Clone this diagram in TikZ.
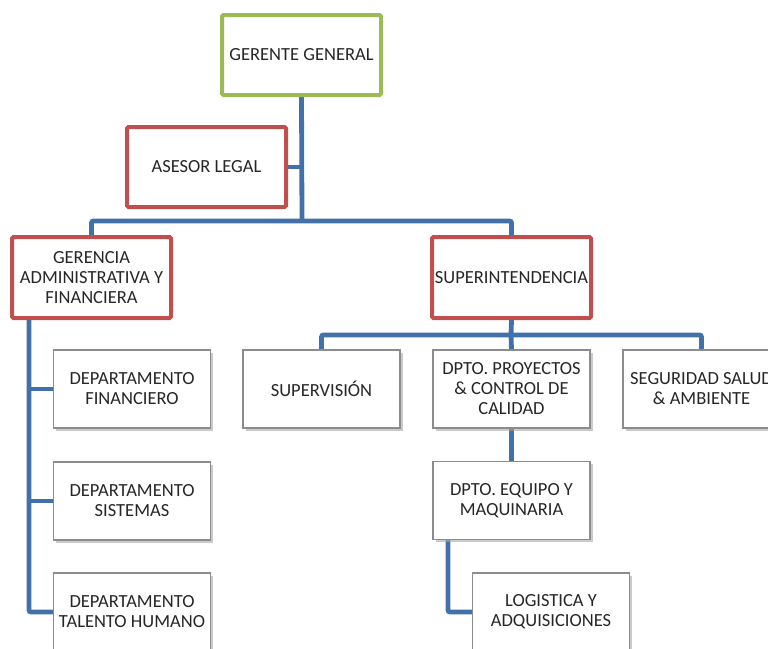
\documentclass[tikz,border=0pt]{standalone}
\usepackage{fontspec}
\setmainfont{Carlito}
\usetikzlibrary{shadows,backgrounds}
\definecolor{obl}{HTML}{4270A8}
\definecolor{ored}{HTML}{C0504D}
\definecolor{ogr}{HTML}{9BBB59}
\definecolor{txt}{HTML}{262626}
\tikzset{
  base/.style={rectangle, align=center, inner sep=0pt, text=txt,
    font=\fontsize{18.5}{20}\selectfont, fill=white},
  topbox/.style={base, draw=ogr, line width=4pt, rounded corners=1.5pt,
    minimum width=159pt, minimum height=80pt},
  redbox/.style={base, draw=ored, line width=4pt, rounded corners=1.5pt,
    minimum width=159pt, minimum height=81pt},
  unitbox/.style={base, draw=black!45, line width=1.1pt,
    minimum width=157pt, minimum height=78pt,
    drop shadow={shadow xshift=2.5pt, shadow yshift=-2.5pt, fill=black!35, opacity=0.6}},
  link/.style={draw=obl, line width=4.8pt, rounded corners=2pt}
}
\begin{document}
\begin{tikzpicture}[x=1pt,y=-1pt]
\useasboundingbox (0,0) rectangle (768,648);
\clip (0,0) rectangle (768,648);
\node[topbox] (gg) at (301.5,55) {GERENTE GENERAL};
\node[redbox, minimum height=80pt] (ase) at (206.5,167) {ASESOR LEGAL};
\node[redbox] (ger) at (91.5,277.5) {GERENCIA\\ADMINISTRATIVA Y\\FINANCIERA};
\node[redbox] (sup) at (511.5,277.5) {SUPERINTENDENCIA};
\node[unitbox] (sv) at (321.5,389) {SUPERVISIÓN};
\node[unitbox] (proy) at (511.5,389) {DPTO. PROYECTOS\\\& CONTROL DE\\CALIDAD};
\node[unitbox] (seg) at (701.5,389) {SEGURIDAD SALUD\\\& AMBIENTE};
\node[unitbox] (eq) at (511.5,500.5) {DPTO. EQUIPO Y\\MAQUINARIA};
\node[unitbox] (log) at (551,612) {LOGISTICA Y\\ADQUISICIONES};
\node[unitbox] (fin) at (132,389) {DEPARTAMENTO\\FINANCIERO};
\node[unitbox] (sis) at (132,501) {DEPARTAMENTO\\SISTEMAS};
\node[unitbox] (tal) at (132,612) {DEPARTAMENTO\\TALENTO HUMANO};
\coordinate (j1) at (302,221);
\coordinate (j2) at (511,335);
\coordinate (gb) at (29,320);
\coordinate (eb) at (448,539);
\begin{scope}[on background layer]
\draw[link] (gg.south) -- (j1);
\draw[link] (ase.east) -- (ase.east -| j1);
\draw[link] (ger.north) |- (j1) -| (sup.north);
\draw[link] (sup.south) -- (j2);
\draw[link] (sv.north) |- (j2) -| (seg.north);
\draw[link] (j2) -- (proy.north);
\draw[link] (proy.south) -- (eq.north);
\draw[link] (eb) |- (log.west);
\draw[link] (gb) |- (tal.west);
\draw[link] (fin.west -| gb) -- (fin.west);
\draw[link] (sis.west -| gb) -- (sis.west);
\end{scope}
\end{tikzpicture}
\end{document}
